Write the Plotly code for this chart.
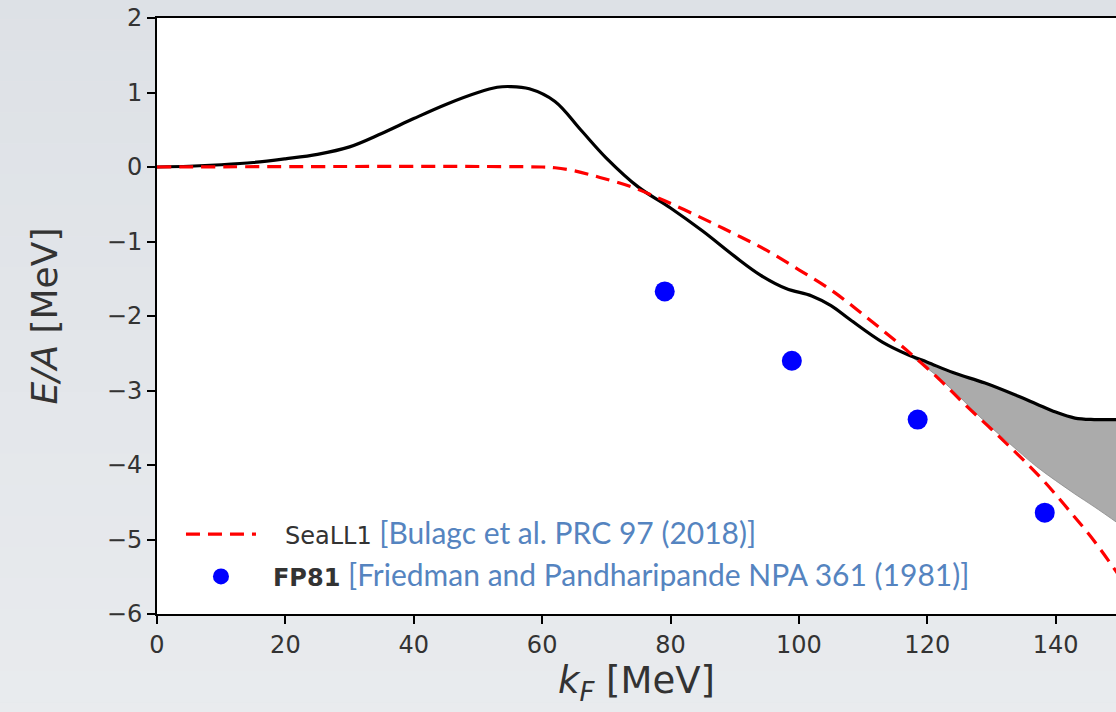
import plotly.graph_objects as go

# Energy per particle of neutron matter vs Fermi momentum
kf_model = [0, 5, 10, 15, 20, 25, 30, 35, 40, 45, 50, 53, 55, 58, 62, 66, 70, 75,
            80, 85, 90, 94, 98, 102, 105, 108, 113, 117, 120, 124, 129, 134, 137, 140, 143, 146, 150]
ea_model = [0.0, 0.01, 0.03, 0.06, 0.11, 0.17, 0.27, 0.45, 0.65, 0.84, 1.0, 1.07, 1.08, 1.05,
            0.88, 0.5, 0.12, -0.27, -0.55, -0.86, -1.2, -1.45, -1.63, -1.73, -1.86, -2.05,
            -2.35, -2.52, -2.62, -2.76, -2.9, -3.07, -3.18, -3.29, -3.37, -3.39, -3.39]

# SeaLL1 functional
kf_seall1 = [0, 60, 62, 65, 69, 74, 79, 85, 90, 95, 100, 105, 110, 115, 118, 122, 126,
             130, 134, 138, 142, 146, 150]
ea_seall1 = [0.0, 0.0, -0.01, -0.05, -0.14, -0.27, -0.45, -0.69, -0.9, -1.12, -1.38, -1.65,
             -1.98, -2.33, -2.55, -2.86, -3.2, -3.52, -3.85, -4.2, -4.6, -5.02, -5.5]

# Uncertainty band
kf_band = [117, 120, 124, 129, 134, 137, 140, 143, 146, 150]
ea_band_hi = [-2.52, -2.62, -2.76, -2.9, -3.07, -3.18, -3.29, -3.37, -3.39, -3.39]
ea_band_lo = [-2.52, -2.7, -3.0, -3.42, -3.8, -4.02, -4.21, -4.39, -4.56, -4.8]

# FP81 points
kf_fp81 = [79.1, 98.9, 118.5, 138.3]
ea_fp81 = [-1.67, -2.60, -3.39, -4.64]

x_ticks = [0, 20, 40, 60, 80, 100, 120, 140]
y_ticks = [-6, -5, -4, -3, -2, -1, 0, 1, 2]
y_ticktext = ["\u22126", "\u22125", "\u22124", "\u22123", "\u22122", "\u22121", "0", "1", "2"]

CITE = "font-family:Lato, 'Open Sans', sans-serif;font-size:30px;color:#5584c0"

fig = go.Figure()

fig.add_trace(go.Scatter(x=kf_band, y=ea_band_lo, mode="lines", line_shape="spline",
                         line=dict(color="#8a8a8a", width=0.8),
                         showlegend=False, hoverinfo="skip"))
fig.add_trace(go.Scatter(x=kf_band, y=ea_band_hi, mode="lines", line_shape="spline",
                         fill="tonexty", fillcolor="#ababab",
                         line=dict(color="#8a8a8a", width=0.8),
                         showlegend=False, hoverinfo="skip"))

fig.add_trace(go.Scatter(x=kf_model, y=ea_model, mode="lines", line_shape="spline",
                         line=dict(color="black", width=3.2), showlegend=False))

fig.add_trace(go.Scatter(
    x=kf_seall1, y=ea_seall1, mode="lines", line_shape="spline",
    line=dict(color="#ff0000", width=3.2, dash="14px,8px"),
    name=f"\u2003SeaLL1 <span style=\"{CITE}\">[Bulagc et al. PRC 97 (2018)]</span>",
    legendgroup="a"))

fig.add_trace(go.Scatter(
    x=kf_fp81, y=ea_fp81, mode="markers",
    marker=dict(color="#0000ff", size=20, line=dict(width=0)),
    name=f"\u2002<b>FP81</b> <span style=\"{CITE}\">[Friedman and Pandharipande NPA 361 (1981)]</span>",
    legendgroup="b"))

# soft slide background
shapes = []
n = 24
top = (221, 225, 230)
bot = (233, 235, 238)
for i in range(n):
    t = i / (n - 1)
    c = tuple(round(top[j] + (bot[j] - top[j]) * t) for j in range(3))
    shapes.append(dict(type="rect", xref="paper", yref="paper", layer="below",
                       x0=-0.2, x1=1.05, y0=1.05 - (i + 1) * 1.25 / n, y1=1.05 - i * 1.25 / n,
                       fillcolor=f"rgb{c}", line=dict(width=0)))
shapes.append(dict(type="rect", xref="paper", yref="paper", layer="below",
                   x0=0, x1=1, y0=0, y1=1, fillcolor="white", line=dict(width=0)))

fig.update_layout(
    width=1116, height=712,
    margin=dict(l=157, r=0, t=18, b=98),
    paper_bgcolor="#e2e5e9",
    plot_bgcolor="white",
    shapes=shapes,
    font=dict(family="DejaVu Sans", color="#333333"),
    xaxis=dict(range=[0, 149.4], tickvals=x_ticks, ticks="outside", ticklen=8,
               tickwidth=1.5, tickcolor="black", showline=True, linecolor="black",
               linewidth=2, mirror=True, showgrid=False, zeroline=False,
               tickfont=dict(size=24, color="#333333"),
               title=dict(text="<i>k<sub>F</sub></i> [MeV]", font=dict(size=37, color="#333333"),
                          standoff=9)),
    yaxis=dict(range=[-6, 2], tickvals=y_ticks, ticktext=y_ticktext,
               ticks="outside", ticklen=8, tickwidth=1.5, tickcolor="black",
               showline=True, linecolor="black", linewidth=2, mirror=False,
               showgrid=False, zeroline=False,
               tickfont=dict(size=24, color="#333333"),
               title=dict(text="<i>E/A</i> [MeV]", font=dict(size=36, color="#333333"),
                          standoff=38)),
    legend=dict(x=0.025, y=0.025, xanchor="left", yanchor="bottom",
                bgcolor="rgba(255,255,255,0)", font=dict(size=24, color="#333333"),
                tracegroupgap=8, itemwidth=70),
    showlegend=True,
)

fig.write_html("out.html")
